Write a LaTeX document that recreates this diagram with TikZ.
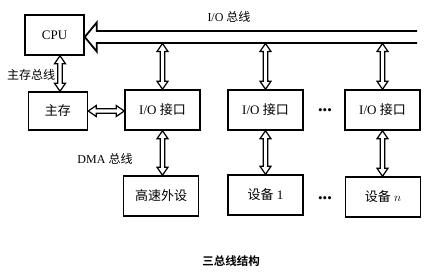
\documentclass[tikz,border=0pt]{standalone}
\usepackage{fontspec}
\setmainfont{Liberation Serif}
\newfontfamily\cjk{Noto Sans CJK SC}[BoldFont={Noto Sans CJK SC Bold}]
\usetikzlibrary{arrows.meta,positioning,calc}

\begin{document}
\begin{tikzpicture}[x=1pt,y=-1pt,
    box/.style={draw, line width=1.5pt, minimum width=75pt, minimum height=40pt, inner sep=2pt, font=\fontsize{13}{15}\selectfont},
    dbl/.style={line width=1.2pt, line join=miter, to path={let \p1=($(\tikztostart)!8pt!(\tikztotarget)$), \p2=($(\tikztotarget)!8pt!(\tikztostart)$) in
        (\tikztostart) -- ($(\p1)!5.5pt!90:(\tikztotarget)$) -- ($(\p1)!2.3pt!90:(\tikztotarget)$)
        -- ($(\p2)!2.3pt!-90:(\tikztostart)$) -- ($(\p2)!5.5pt!-90:(\tikztostart)$) -- (\tikztotarget)
        -- ($(\p2)!5.5pt!90:(\tikztostart)$) -- ($(\p2)!2.3pt!90:(\tikztostart)$)
        -- ($(\p1)!2.3pt!-90:(\tikztotarget)$) -- ($(\p1)!5.5pt!-90:(\tikztotarget)$) -- cycle}},
    bus/.style={line width=1.8pt, line join=miter, to path={let \p1=($(\tikztotarget)!12pt!(\tikztostart)$) in
        ($(\tikztostart)!6pt!90:(\tikztotarget)$) -- ($(\p1)!6pt!-90:(\tikztostart)$) -- ($(\p1)!14.5pt!-90:(\tikztostart)$)
        -- (\tikztotarget) -- ($(\p1)!14.5pt!90:(\tikztostart)$) -- ($(\p1)!6pt!90:(\tikztostart)$)
        -- ($(\tikztostart)!6pt!-90:(\tikztotarget)$)}},
    lbl/.style={font=\fontsize{12}{14}\selectfont, inner sep=1pt},
    dots/.style={font=\fontsize{13}{15}\selectfont, inner sep=0pt}]
    \useasboundingbox (0,0) rectangle (434,277);

    % CPU and main memory
    \node[box, minimum width=59pt] (cpu) at (54.5,35) {CPU};
    \node[box, minimum width=59pt, minimum height=38pt] (mem) at (58,111) {\cjk 主存};
    \draw[dbl] (mem.north -| 60,0) to (cpu.south -| 60,0);
    \node[lbl] (membus) at (31,75) {\cjk 主存总线};

    % I/O bus
    \coordinate (busR) at (417,37);
    \coordinate (busbot) at (417,43.5);
    \draw[bus] (busR) to (cpu.east |- busR);
    \node[lbl] (iobus) at (229,17) {I/O {\cjk 总线}};

    % I/O interfaces
    \node[box] (io1) at (162.5,110) {I/O {\cjk 接口}};
    \node[box] (io2) at (265.5,110) {I/O {\cjk 接口}};
    \node[box] (io3) at (382.5,110) {I/O {\cjk 接口}};
    \node[dots] (dotsA) at (325,112) {•••};
    \foreach \io in {io1,io2,io3}
        \draw[dbl] (\io.north) to (\io.north |- busbot);
    \draw[dbl] (mem.east) to (mem.east -| io1.west);

    % devices
    \node[box] (fast) at (161,196) {\cjk 高速外设};
    \node[box] (dev1) at (265.5,195) {{\cjk 设备} 1};
    \node[box] (devn) at (383,197) {{\cjk 设备} $n$};
    \node[dots] (dotsB) at (325,200) {•••};
    \draw[dbl] (io1.south) to (io1.south |- fast.north);
    \draw[dbl] (io2.south) to (io2.south |- dev1.north);
    \draw[dbl] (io3.south) to (io3.south |- devn.north);
    \node[lbl] (dmabus) at (105,159) {DMA {\cjk 总线}};

    % caption
    \node[lbl, font=\fontsize{11.5}{13}\selectfont] (caption) at (231,261) {\cjk\bfseries 三总线结构};
\end{tikzpicture}
\end{document}
